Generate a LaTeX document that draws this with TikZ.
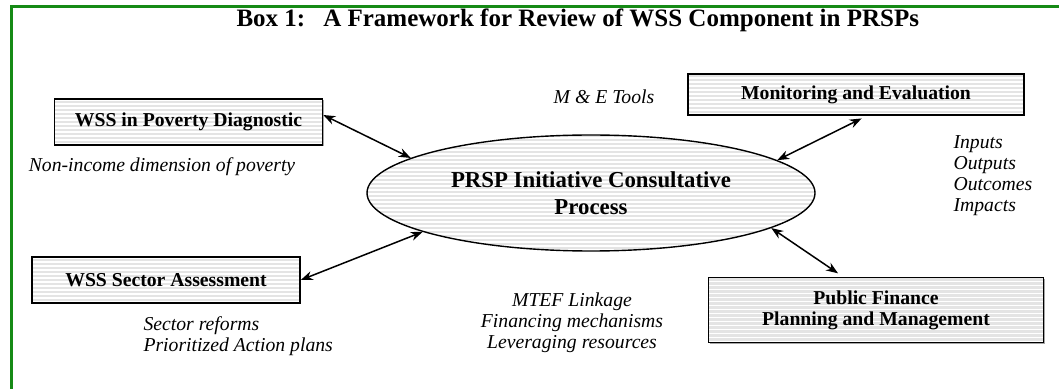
\documentclass[tikz,border=0pt]{standalone}
\usepackage{fontspec}
\setmainfont{Liberation Serif}
\usetikzlibrary{arrows.meta,shapes.geometric,shadows}
\definecolor{frgreen}{HTML}{168A16}
\definecolor{stripe}{HTML}{E4E4E4}

\begin{document}
\begin{tikzpicture}[x=1pt,y=1pt,
  font=\fontsize{19.7}{21}\selectfont,
  lined/.style={fill=stripe,path picture={
      \foreach \k in {1,5,...,125}
        \draw[white,line width=1.1pt] ([yshift=\k pt]path picture bounding box.south west) -- ++(470pt,0pt);}},
  topic/.style={drop shadow={shadow xshift=1.3pt,shadow yshift=-1.3pt,fill=gray!70,opacity=1},
      lined,draw=black,line width=1.6pt,inner sep=0pt,align=center,font=\fontsize{19.7}{21}\selectfont\bfseries},
  hub/.style={lined,ellipse,draw=black,line width=1.4pt,inner sep=0pt,align=center,font=\fontsize{22.8}{27}\selectfont\bfseries},
  note/.style={align=left,font=\fontsize{19.7}{21}\selectfont\itshape},
  link/.style={{Stealth[length=12pt,width=9pt]}-{Stealth[length=12pt,width=9pt]},line width=1.5pt},
]
\clip (0,0) rectangle (1059,388);
\draw[frgreen,line width=3pt] (11,-10) |- (1075,381);

\node[anchor=west,font=\fontsize{25}{27}\selectfont\bfseries] (title) at (233,368)
  {Box 1:\hspace{18pt}A Framework for Review of WSS Component in PRSPs};

\node[hub,minimum width=448pt,minimum height=116pt] (proc) at (591,195)
  {PRSP Initiative Consultative\\Process};
\node[topic,minimum width=268pt,minimum height=46pt] (diag) at (188.5,266) {WSS in Poverty Diagnostic};
\node[topic,minimum width=268pt,minimum height=46pt] (sect) at (166,108) {WSS Sector Assessment};
\node[topic,minimum width=336pt,minimum height=41pt] (mande) at (856,293.5) {Monitoring and Evaluation};
\node[topic,minimum width=335pt,minimum height=65pt] (pubfin) at (876,78)
  {Public Finance\\Planning and Management};

\node[note] (tools) at (604,291) {M \& E Tools};
\node[note] (nonincome) at (162,221) {Non-income dimension of poverty};
\node[note,anchor=west] (results) at (950,212) {Inputs\\Outputs\\Outcomes\\Impacts};
\node[note,anchor=west] (reforms) at (140,52) {Sector reforms\\Prioritized Action plans};
\node[note,align=center] (mtef) at (572,65) {MTEF Linkage\\Financing mechanisms\\Leveraging resources};

\draw[link] ([yshift=7pt]diag.east) -- (proc.169);
\draw[link] (sect.east) -- (proc.193);
\draw[link,shorten >=6pt] (proc.10) -- ([xshift=11pt]mande.south);
\draw[link,shorten >=6pt] (proc.349) -- ([xshift=-33pt]pubfin.north);
\end{tikzpicture}
\end{document}
